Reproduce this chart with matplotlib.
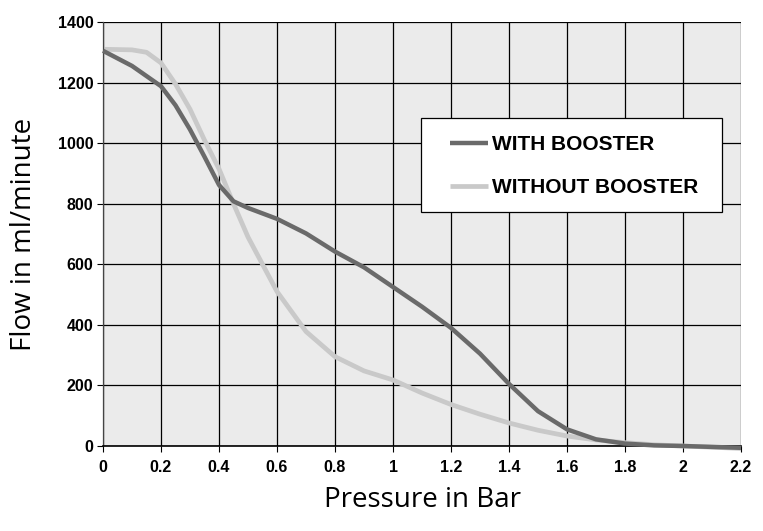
import matplotlib.pyplot as plt
from matplotlib.patches import Rectangle

# pressure (bar) vs flow (ml/minute)
pressure_with = [0, 0.1, 0.2, 0.25, 0.3, 0.35, 0.4, 0.45, 0.5, 0.6, 0.7, 0.8, 0.9,
                 1.0, 1.1, 1.2, 1.3, 1.4, 1.5, 1.6, 1.7, 1.8, 1.9, 2.0, 2.1, 2.2]
flow_with = [1305, 1255, 1188, 1125, 1045, 955, 862, 808, 786, 750, 702, 642, 590,
             525, 460, 390, 305, 205, 115, 55, 22, 8, 2, 0, -3, -6]

pressure_without = [0, 0.1, 0.15, 0.2, 0.25, 0.3, 0.35, 0.4, 0.45, 0.5, 0.55, 0.6, 0.7,
                    0.8, 0.9, 1.0, 1.1, 1.2, 1.3, 1.4, 1.5, 1.6, 1.7, 1.8, 1.9, 2.0,
                    2.1, 2.2]
flow_without = [1310, 1308, 1300, 1265, 1195, 1112, 1010, 915, 800, 690, 600, 510, 378,
                295, 248, 218, 175, 137, 105, 76, 52, 33, 20, 11, 4, 0, -4, -8]

x_ticks = [0, 0.2, 0.4, 0.6, 0.8, 1, 1.2, 1.4, 1.6, 1.8, 2, 2.2]
x_labels = ["0", "0.2", "0.4", "0.6", "0.8", "1", "1.2", "1.4", "1.6", "1.8", "2", "2.2"]
y_ticks = [0, 200, 400, 600, 800, 1000, 1200, 1400]

fig = plt.figure(figsize=(7.63, 5.31), dpi=100)
ax = fig.add_axes([103 / 763, 85 / 531, 638 / 763, 424 / 531])
ax.set_facecolor("#ebebeb")

ax.plot(pressure_with, flow_with, color="#6a6a6a", lw=3.2, label="WITH BOOSTER",
        clip_on=False, zorder=3, solid_capstyle="butt")
ax.plot(pressure_without, flow_without, color="#c9c9c9", lw=3.4, label="WITHOUT BOOSTER",
        clip_on=False, zorder=2, solid_capstyle="butt")

ax.set_xlim(0, 2.2)
ax.set_ylim(0, 1400)
ax.set_xticks(x_ticks)
ax.set_xticklabels(x_labels)
ax.set_yticks(y_ticks)
ax.grid(True, color="black", lw=0.9)
ax.set_axisbelow(True)

for s in ["top", "right"]:
    ax.spines[s].set_visible(False)
ax.spines["left"].set_color("#444444")
ax.spines["left"].set_linewidth(0.9)
ax.spines["bottom"].set_color("black")
ax.spines["bottom"].set_linewidth(1.2)
ax.tick_params(axis="y", length=4, width=0.8, pad=3)
ax.tick_params(axis="x", length=4, width=0.8, pad=6)
for lbl in ax.get_xticklabels() + ax.get_yticklabels():
    lbl.set_fontfamily("Liberation Sans")
    lbl.set_fontweight("bold")
    lbl.set_fontsize(11.5)

ax.set_xlabel("Pressure in Bar", fontfamily="Open Sans", fontsize=20, labelpad=8)
ax.set_ylabel("Flow in ml/minute", fontfamily="Open Sans", fontsize=20, labelpad=14)

# legend box drawn by hand so the padding can be uneven like the original
box = Rectangle((0.498, 0.552), 0.472, 0.222, transform=ax.transAxes,
                facecolor="white", edgecolor="black", lw=0.9, zorder=4)
ax.add_patch(box)
leg = ax.legend(loc="upper left", bbox_to_anchor=(0.544, 0.733),
                prop={"family": "Liberation Sans", "weight": "bold", "size": 15},
                frameon=False, handlelength=1.8, handletextpad=0.2,
                borderpad=0, labelspacing=1.15, borderaxespad=0)
leg.set_zorder(5)

fig.savefig("out.png", dpi=100)
